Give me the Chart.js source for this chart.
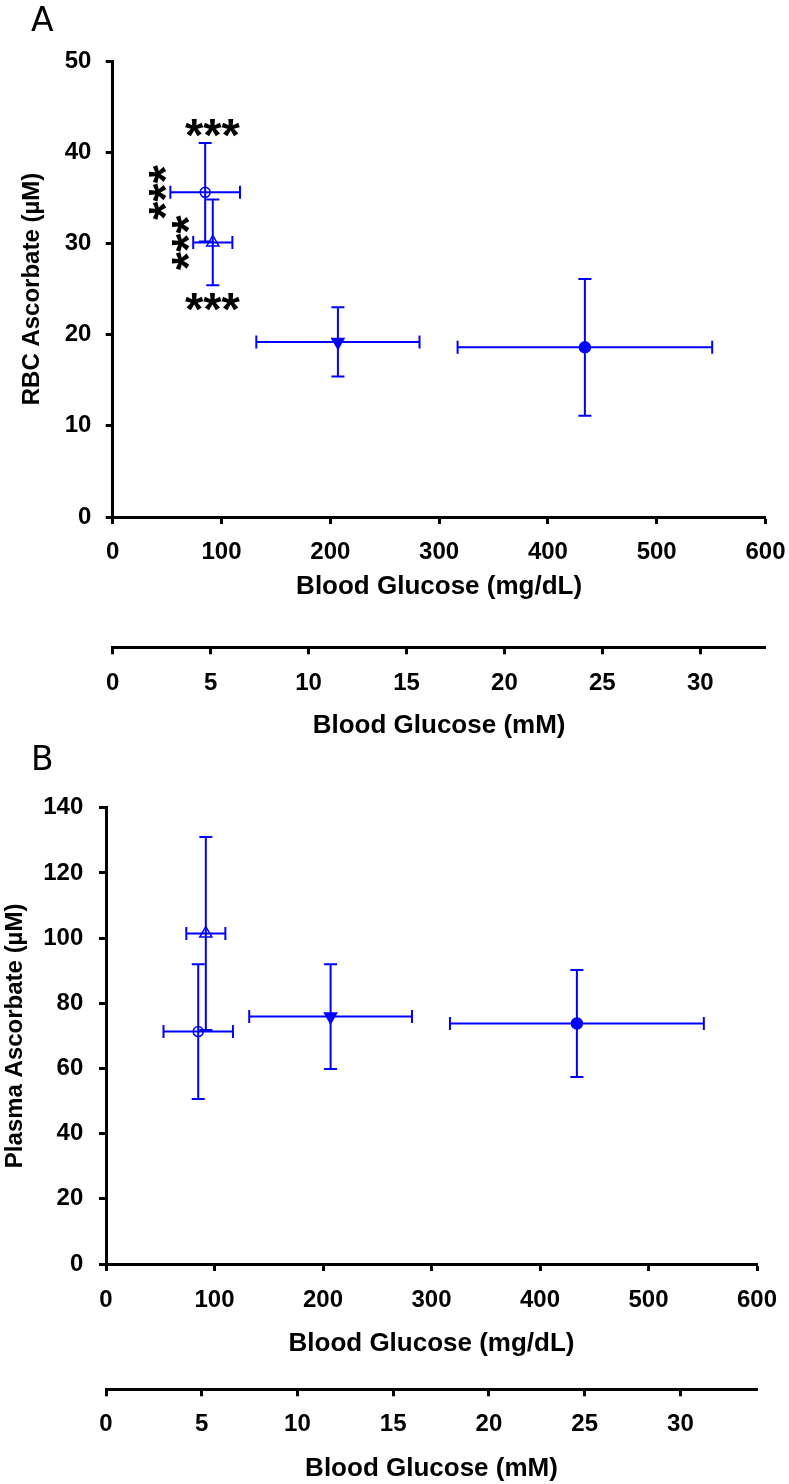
<!DOCTYPE html>
<html>
<head>
<meta charset="utf-8">
<script src="https://cdn.jsdelivr.net/npm/chart.js@4.4.1/dist/chart.umd.min.js"></script>
<style>
html, body { margin: 0; padding: 0; background: #fff; }
body { width: 789px; height: 1484px; position: relative; overflow: hidden; }
.panel { position: absolute; left: 0; width: 789px; }
#wrapA { top: 0; height: 760px; }
#wrapB { top: 760px; height: 724px; }
.lbl { position: absolute; font-family: "DejaVu Sans", sans-serif; font-size: 33px; line-height: 1; color: #000; }
</style>
</head>
<body>
<div id="wrapA" class="panel"><canvas id="chartA"></canvas></div>
<div id="wrapB" class="panel"><canvas id="chartB"></canvas></div>
<div class="lbl" style="left:31px;top:3px">A</div>
<div class="lbl" style="left:31px;top:742px">B</div>
<script>
// ---------------- data ----------------
const groups = ['Group 1', 'Group 2', 'Group 3', 'Group 4'];
const glucoseMean = [85, 92, 207, 434];      // mg/dL
const glucoseSD   = [32, 18, 75, 117];
const rbcMean     = [35.6, 30.1, 19.2, 18.6]; // µM
const rbcSD       = [5.4, 4.7, 3.8, 7.5];
const plasmaMean  = [71.3, 101.4, 75.9, 73.8]; // µM
const plasmaSD    = [20.7, 29.6, 16.1, 16.4];
const mgTicks     = [0, 100, 200, 300, 400, 500, 600];
const mmTicks     = [0, 5, 10, 15, 20, 25, 30];
const rbcTicks    = [0, 10, 20, 30, 40, 50];
const plasmaTicks = [0, 20, 40, 60, 80, 100, 120, 140];
const mmMaxA = 33.33;
const mmMaxB = 34.0;

// ---------------- styles ----------------
const BLUE = 'rgb(0,0,255)';
const FONT = '"Liberation Sans", Arial, Helvetica, sans-serif';
const pointStyles = ['circle', 'triangle', 'triangle', 'circle'];
const pointRots   = [0, 0, 180, 0];
const pointRadii  = [5, 7, 7, 5.5];
const pointFilled = [false, false, true, true];

const errorBars = {
  id: 'errorBars',
  beforeDatasetsDraw(chart) {
    const { ctx, scales: { x, y } } = chart;
    const cap = 6.5;
    ctx.save();
    ctx.strokeStyle = BLUE;
    ctx.lineWidth = 2;
    chart.data.datasets.forEach(ds => ds.data.forEach(p => {
      const px = x.getPixelForValue(p.x), py = y.getPixelForValue(p.y);
      const xl = x.getPixelForValue(p.x - p.xErr), xr = x.getPixelForValue(p.x + p.xErr);
      const yt = y.getPixelForValue(p.y + p.yErr), yb = y.getPixelForValue(p.y - p.yErr);
      ctx.beginPath();
      ctx.moveTo(xl, py); ctx.lineTo(xr, py);
      ctx.moveTo(xl, py - cap); ctx.lineTo(xl, py + cap);
      ctx.moveTo(xr, py - cap); ctx.lineTo(xr, py + cap);
      ctx.moveTo(px, yt); ctx.lineTo(px, yb);
      ctx.moveTo(px - cap, yt); ctx.lineTo(px + cap, yt);
      ctx.moveTo(px - cap, yb); ctx.lineTo(px + cap, yb);
      ctx.stroke();
    }));
    ctx.restore();
  }
};

const stars = {
  id: 'stars',
  afterDatasetsDraw(chart, args, opts) {
    const marks = opts.marks || [];
    if (!marks.length) return;
    const { ctx, scales: { x, y } } = chart;
    const pts = chart.data.datasets.map(ds => ds.data[0]);
    ctx.save();
    ctx.fillStyle = '#000';
    ctx.font = 'bold ' + opts.size + 'px ' + FONT;
    marks.forEach(m => {
      const px = pts[m.xOf], py = pts[m.yOf];
      let cx = x.getPixelForValue(px.x), cy = y.getPixelForValue(py.y);
      if (m.edge === 'top') cy = y.getPixelForValue(py.y + py.yErr) + m.gap;
      if (m.edge === 'bottom') cy = y.getPixelForValue(py.y - py.yErr) + m.gap;
      if (m.edge === 'left') cx = x.getPixelForValue(px.x - px.xErr) + m.gap;
      ctx.save();
      ctx.translate(cx, cy);
      ctx.rotate(m.rot * Math.PI / 180);
      ctx.textAlign = 'left';
      ctx.textBaseline = 'alphabetic';
      const mt = ctx.measureText(m.text);
      const dx = -(mt.actualBoundingBoxRight - mt.actualBoundingBoxLeft) / 2;
      const dy = (mt.actualBoundingBoxAscent - mt.actualBoundingBoxDescent) / 2;
      ctx.fillText(m.text, dx, dy);
      ctx.restore();
    });
    ctx.restore();
  }
};

function makePanel(id, yMean, ySD, yTicks, yMax, yTitle, o) {
  const datasets = groups.map((g, i) => ({
    label: g,
    data: [{ x: glucoseMean[i], y: yMean[i], xErr: glucoseSD[i], yErr: ySD[i] }],
    pointStyle: pointStyles[i],
    pointRotation: pointRots[i],
    pointRadius: pointRadii[i],
    pointHoverRadius: pointRadii[i],
    pointBackgroundColor: pointFilled[i] ? BLUE : 'rgba(0,0,0,0)',
    pointBorderColor: BLUE,
    pointBorderWidth: 1.5,
    showLine: false
  }));
  const tickFont = { family: FONT, size: 24, weight: 'bold' };
  const titleFont = { family: FONT, size: 26, weight: 'bold' };
  const gridOpts = { display: true, drawOnChartArea: false, drawTicks: true, tickLength: 7, tickWidth: 3, tickColor: '#000' };
  const borderOpts = { display: true, color: '#000', width: 3 };
  const fitH = h => s => { s.height = h; s.paddingLeft = 0; s.paddingRight = 0; };
  return new Chart(document.getElementById(id), {
    type: 'scatter',
    data: { datasets },
    plugins: [errorBars, stars],
    options: {
      responsive: true,
      maintainAspectRatio: false,
      devicePixelRatio: 1,
      animation: false,
      events: [],
      layout: { padding: { left: 0, top: o.padTop, right: o.padRight, bottom: 0 } },
      plugins: {
        legend: { display: false },
        tooltip: { enabled: false },
        stars: { marks: o.marks || [], size: 47 }
      },
      scales: {
        x: {
          type: 'linear', position: 'bottom', weight: 0,
          min: 0, max: 600, bounds: 'data',
          afterBuildTicks: s => { s.ticks = mgTicks.map(v => ({ value: v })); },
          afterFit: fitH(o.xH),
          border: borderOpts, grid: gridOpts,
          ticks: { color: '#000', font: tickFont, padding: o.xTickPad, maxRotation: 0, autoSkip: false },
          title: { display: true, text: 'Blood Glucose (mg/dL)', color: '#000', font: titleFont, padding: { top: 0, bottom: o.xTitlePad } }
        },
        xmm: {
          type: 'linear', position: 'bottom', weight: 1,
          min: 0, max: o.mmMax, bounds: 'data',
          afterBuildTicks: s => { s.ticks = mmTicks.map(v => ({ value: v })); },
          afterFit: fitH(o.mmH),
          border: borderOpts, grid: gridOpts,
          ticks: { color: '#000', font: tickFont, padding: o.mmTickPad, maxRotation: 0, autoSkip: false },
          title: { display: true, text: 'Blood Glucose (mM)', color: '#000', font: titleFont, padding: { top: 0, bottom: o.mmTitlePad } }
        },
        y: {
          type: 'linear', position: 'left',
          min: 0, max: yMax, bounds: 'data',
          afterBuildTicks: s => { s.ticks = yTicks.map(v => ({ value: v })); },
          afterFit: s => { s.width = o.yW; },
          border: borderOpts, grid: gridOpts,
          ticks: { color: '#000', font: tickFont, padding: o.yTickPad, autoSkip: false },
          title: { display: true, text: yTitle, color: '#000', font: { family: FONT, size: 24, weight: 'bold' }, padding: { top: o.yTitlePad, bottom: 0 } }
        }
      }
    }
  });
}

makePanel('chartA', rbcMean, rbcSD, rbcTicks, 50, 'RBC Ascorbate (µM)', {
  padTop: 61, padRight: 23.5, yW: 112.7, xH: 130.3, mmH: 112.7,
  xTickPad: 13.6, mmTickPad: 14.6, xTitlePad: 44.4, mmTitlePad: 18.7,
  yTickPad: 14.3, yTitlePad: 17.6, mmMax: mmMaxA,
  marks: [
    { text: '***', xOf: 1, yOf: 0, edge: 'top', gap: -15, rot: 0 },
    { text: '***', xOf: 1, yOf: 1, edge: 'bottom', gap: 17, rot: 0 },
    { text: '***', xOf: 0, yOf: 0, edge: 'left', gap: -12.3, rot: -90 },
    { text: '***', xOf: 1, yOf: 1, edge: 'left', gap: -12.3, rot: -90 }
  ]
});

makePanel('chartB', plasmaMean, plasmaSD, plasmaTicks, 140, 'Plasma Ascorbate (µM)', {
  padTop: 47.7, padRight: 32, yW: 106, xH: 125.3, mmH: 94.7,
  xTickPad: 14.6, mmTickPad: 13.3, xTitlePad: 29.4, mmTitlePad: 0,
  yTickPad: 15.7, yTitlePad: 0.6, mmMax: mmMaxB,
  marks: []
});
</script>
</body>
</html>
